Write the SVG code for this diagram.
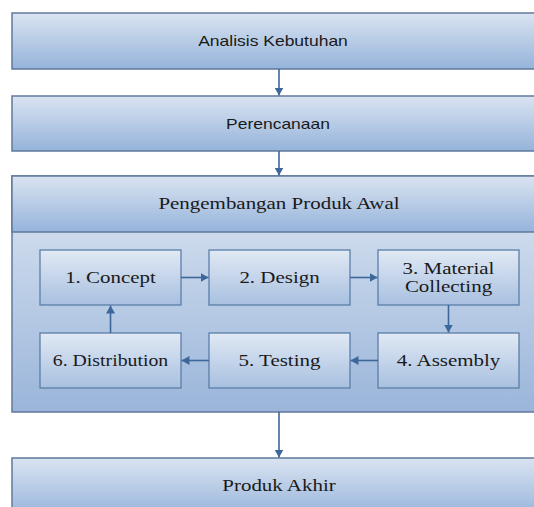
<svg xmlns="http://www.w3.org/2000/svg" width="534" height="507" viewBox="0 0 534 507">
<defs>
<linearGradient id="gBar" x1="0" y1="0" x2="0" y2="1">
<stop offset="0" stop-color="#dae4f1"/>
<stop offset="1" stop-color="#95b3da"/>
</linearGradient>
<linearGradient id="gBody" x1="0" y1="0" x2="0" y2="1">
<stop offset="0" stop-color="#dce6f2"/>
<stop offset="1" stop-color="#9ab5da"/>
</linearGradient>
<linearGradient id="gStep" x1="0" y1="0" x2="0" y2="1">
<stop offset="0" stop-color="#e1e9f4"/>
<stop offset="1" stop-color="#a8c0e0"/>
</linearGradient>
<marker id="ah" markerUnits="userSpaceOnUse" markerWidth="10" markerHeight="10" refX="8" refY="4.5" orient="auto">
<path d="M0,0 L8,4.5 L0,9 z" fill="#3d6699"/>
</marker>
<style>
.bar{fill:url(#gBar);stroke:#60799d;stroke-width:1.5}
.body{fill:url(#gBody);stroke:#60799d;stroke-width:1.5}
.step{fill:url(#gStep);stroke:#5b7eaa;stroke-width:1.3}
.sans{font-family:"Liberation Sans",Arial,sans-serif;font-size:14px;fill:#1a1a1a;text-anchor:middle}
.serif{font-family:"Liberation Serif","Times New Roman",serif;font-size:16.5px;fill:#1a1a1a;text-anchor:middle}
.con{stroke:#3d6699;stroke-width:1.6;fill:none;marker-end:url(#ah)}
</style>
</defs>
<rect x="0" y="0" width="534" height="507" fill="#ffffff"/>

<g id="analisis">
<rect class="bar" x="12" y="13" width="530" height="56"/>
<text class="sans" transform="translate(273,45.5) scale(1.25,1)">Analisis Kebutuhan</text>
</g>

<g id="perencanaan">
<rect class="bar" x="12" y="96" width="530" height="55"/>
<text class="sans" transform="translate(278,129) scale(1.25,1)">Perencanaan</text>
</g>

<g id="pengembangan">
<rect class="body" x="12" y="176" width="530" height="236"/>
<rect class="bar" x="12" y="176" width="530" height="56"/>
<text class="serif" transform="translate(279,209) scale(1.27,1)">Pengembangan Produk Awal</text>
</g>

<g id="concept">
<rect class="step" x="40" y="250" width="141" height="55"/>
<text class="serif" transform="translate(110.5,283) scale(1.27,1)">1. Concept</text>
</g>
<g id="design">
<rect class="step" x="209" y="250" width="141" height="55"/>
<text class="serif" transform="translate(279.5,283) scale(1.27,1)">2. Design</text>
</g>
<g id="material">
<rect class="step" x="378" y="250" width="141" height="55"/>
<text class="serif" transform="translate(448.5,274) scale(1.27,1)">3. Material</text>
<text class="serif" transform="translate(448.5,292) scale(1.27,1)">Collecting</text>
</g>
<g id="assembly">
<rect class="step" x="378" y="333" width="141" height="55"/>
<text class="serif" transform="translate(448.5,366) scale(1.27,1)">4. Assembly</text>
</g>
<g id="testing">
<rect class="step" x="209" y="333" width="141" height="55"/>
<text class="serif" transform="translate(279.5,366) scale(1.27,1)">5. Testing</text>
</g>
<g id="distribution">
<rect class="step" x="40" y="333" width="141" height="55"/>
<text class="serif" transform="translate(110.5,366) scale(1.2,1)">6. Distribution</text>
</g>

<g id="produk-akhir">
<rect class="bar" x="12" y="458" width="530" height="60"/>
<text class="serif" transform="translate(279,491) scale(1.27,1)">Produk Akhir</text>
</g>

<g id="connectors">
<line class="con" x1="279" y1="69" x2="279" y2="95.5"/>
<line class="con" x1="279" y1="151" x2="279" y2="175.5"/>
<line class="con" x1="279" y1="412" x2="279" y2="457.5"/>
<line class="con" x1="181" y1="277.5" x2="208.5" y2="277.5"/>
<line class="con" x1="350" y1="277.5" x2="377.5" y2="277.5"/>
<line class="con" x1="448.5" y1="305" x2="448.5" y2="332.5"/>
<line class="con" x1="378" y1="360.5" x2="350.5" y2="360.5"/>
<line class="con" x1="209" y1="360.5" x2="181.5" y2="360.5"/>
<line class="con" x1="110.5" y1="333" x2="110.5" y2="305.5"/>
</g>
</svg>
